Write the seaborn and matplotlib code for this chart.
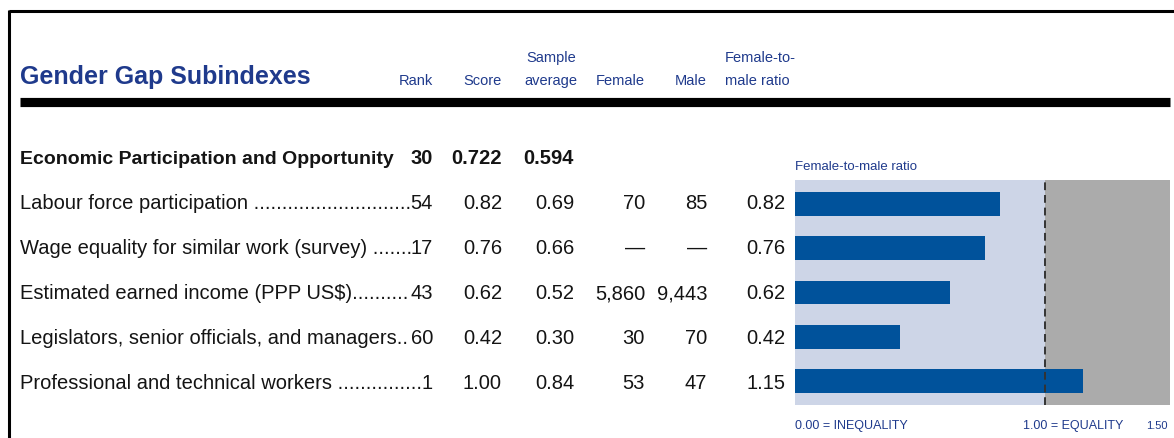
import matplotlib
matplotlib.use('Agg')
import matplotlib.pyplot as plt
import seaborn as sns
import pandas as pd

# table data
title = 'Gender Gap Subindexes'
subindex = 'Economic Participation and Opportunity'
subindex_vals = ['30', '0.722', '0.594']
items = ['Labour force participation',
         'Wage equality for similar work (survey)',
         'Estimated earned income (PPP US$)',
         'Legislators, senior officials, and managers',
         'Professional and technical workers']
leader_gap = [' ', ' ', '', '', ' ']
ranks = [54, 17, 43, 60, 1]
scores = [0.82, 0.76, 0.62, 0.42, 1.00]
sample_avg = [0.69, 0.66, 0.52, 0.30, 0.84]
female = ['70', '—', '5,860', '30', '53']
male = ['85', '—', '9,443', '70', '47']
ratio = [0.82, 0.76, 0.62, 0.42, 1.15]

df = pd.DataFrame({'item': items, 'ratio': ratio})

sns.set_theme(style='white')
# no narrow face installed, Liberation Sans is the tightest one
plt.rcParams['font.family'] = ['Liberation Sans', 'DejaVu Sans']

navy = '#1f3a8c'
ink = '#141414'
bar_blue = '#00529b'
light = '#cdd5e7'
grey = '#ababab'

W, H = 1174, 438
fig = plt.figure(figsize=(W / 100, H / 100), dpi=100)

# overlay axes in pixel units for the table part
tx = fig.add_axes([0, 0, 1, 1])
tx.set_xlim(0, W)
tx.set_ylim(H, 0)
tx.axis('off')

# frame and the thick rule
tx.plot([8.5, 8.5], [10, H], color='black', lw=2.2, solid_capstyle='butt')
tx.plot([8.5, W], [10.5, 10.5], color='black', lw=2.2, solid_capstyle='butt')
tx.plot([20, 1170], [101.5, 101.5], color='black', lw=6.6, solid_capstyle='butt')

tx.text(20, 84, title, fontsize=18, fontweight='bold', color=navy, va='baseline')

# column headers (right edges in px)
col_x = [433, 502, 574, 645, 707, 785]
hdr1 = ['', '', 'Sample', '', '', 'Female-to-']
hdr2 = ['Rank', 'Score', 'average', 'Female', 'Male', 'male ratio']
hsize = 10.5
for x, h1, h2 in zip(col_x, hdr1, hdr2):
    ha = 'right'
    xx = x
    if h2 == 'average':
        ha, xx = 'center', 551
    if h2 == 'male ratio':
        ha, xx = 'left', 725
    tx.text(xx, 62, h1, fontsize=hsize, color=navy, ha=ha, va='baseline')
    tx.text(xx, 85, h2, fontsize=hsize, color=navy, ha=ha, va='baseline')

body = 14.5
tx.text(20, 164, subindex, fontsize=14, fontweight='bold', color=ink, va='baseline')
for x, v in zip(col_x[:3], subindex_vals):
    tx.text(x, 164, v, fontsize=body, fontweight='bold', color=ink, ha='right', va='baseline')

fig.canvas.draw()
rend = fig.canvas.get_renderer()

row_y = [209, 254, 299, 344, 389]
for i, name in enumerate(items):
    y = row_y[i]
    rk = tx.text(col_x[0], y, str(ranks[i]), fontsize=body, color=ink, ha='right', va='baseline')
    rk_left = rk.get_window_extent(rend).x0
    s = name + leader_gap[i]
    lab = tx.text(20, y, s, fontsize=body, color=ink, va='baseline')
    # dot leaders right up to the rank number
    while True:
        lab.set_text(s + '.')
        if lab.get_window_extent(rend).x1 > rk_left + 2:
            lab.set_text(s)
            break
        s = s + '.'
    row = ['%.2f' % scores[i], '%.2f' % sample_avg[i], female[i], male[i], '%.2f' % ratio[i]]
    for x, v in zip(col_x[1:], row):
        tx.text(x, y, v, fontsize=body, color=ink, ha='right', va='baseline')

# bar chart of the female-to-male ratio
bx = fig.add_axes([795 / W, (H - 405) / H, 375 / W, 225 / H])
bx.axvspan(0, 1, color=light, zorder=0, lw=0)
bx.axvspan(1, 1.5, color=grey, zorder=0, lw=0)
sns.barplot(data=df, x='ratio', y='item', orient='h', color=bar_blue,
            saturation=1, width=0.54, linewidth=0, ax=bx, zorder=2)
bx.axvline(1, color='#333333', lw=1.4, ls=(0, (4, 2.5)), zorder=3)
bx.set_xlim(0, 1.5)
bx.set_ylim(4.55, -0.55)
bx.set_xlabel('')
bx.set_ylabel('')
bx.set_xticks([])
bx.set_yticks([])
for sp in bx.spines.values():
    sp.set_visible(False)

tx.text(795, 170, 'Female-to-male ratio', fontsize=9.5, color=navy, va='baseline')
tx.text(795, 429, '0.00 = INEQUALITY', fontsize=9, color=navy, va='baseline')
tx.text(1123, 429, '1.00 = EQUALITY', fontsize=9, color=navy, ha='right', va='baseline')
tx.text(1168, 429, '1.50', fontsize=8, color=navy, ha='right', va='baseline')

fig.savefig('out.png', dpi=100)
